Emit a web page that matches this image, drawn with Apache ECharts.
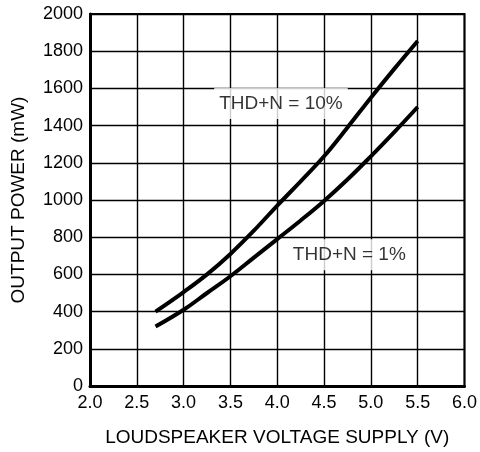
<!DOCTYPE html>
<html>
<head>
<meta charset="utf-8">
<script src="https://cdn.jsdelivr.net/npm/echarts@6/dist/echarts.min.js"></script>
<style>
html,body{margin:0;padding:0;background:#fff;}
#chart{width:480px;height:452px;}
</style>
</head>
<body>
<div id="chart"></div>
<script>
// Data
const voltage = [2.7, 3.0, 3.25, 3.5, 3.75, 4.0, 4.25, 4.5, 4.75, 5.0, 5.25, 5.5];
const power10 = [400, 505, 600, 710, 835, 970, 1100, 1235, 1390, 1550, 1705, 1855];
const power1  = [320, 410, 500, 590, 690, 790, 890, 995, 1110, 1235, 1365, 1500];
const xTicks = ['2.0','2.5','3.0','3.5','4.0','4.5','5.0','5.5','6.0'];
const labelNames = ['THD+N = 10%', 'THD+N = 1%'];
const labelX = [4.04, 4.77];
const labelY = [1519, 706];

const font = 'Liberation Sans, Arial, sans-serif';
const chart = echarts.init(document.getElementById('chart'));

const pairs = (xs, ys) => xs.map((x, i) => [x, ys[i]]);

chart.setOption({
  animation: false,
  backgroundColor: '#fff',
  grid: {left: 90, right: 15, top: 14, bottom: 64, show: true, borderColor: '#000', borderWidth: 2, backgroundColor: 'transparent'},
  xAxis: {
    type: 'value', min: 2, max: 6, interval: 0.5,
    name: 'LOUDSPEAKER VOLTAGE SUPPLY (V)', nameLocation: 'middle', nameGap: 42,
    nameTextStyle: {color: '#000', fontSize: 19, fontFamily: font},
    axisLine: {show: true, onZero: false, lineStyle: {color: '#000', width: 3}},
    axisTick: {show: false},
    axisLabel: {color: '#000', fontSize: 18, fontFamily: font, margin: 8,
      formatter: v => xTicks[Math.round((v - 2) / 0.5)]},
    splitLine: {show: true, lineStyle: {color: '#000', width: 1.4}}
  },
  yAxis: {
    type: 'value', min: 0, max: 2000, interval: 200,
    name: 'OUTPUT POWER (mW)', nameLocation: 'middle', nameGap: 62,
    nameTextStyle: {color: '#000', fontSize: 19, fontFamily: font},
    axisLine: {show: true, lineStyle: {color: '#000', width: 3}},
    axisTick: {show: false},
    axisLabel: {color: '#000', fontSize: 18, fontFamily: font, margin: 7,
      formatter: v => String(v)},
    splitLine: {show: true, lineStyle: {color: '#000', width: 1.4}}
  },
  series: [
    {type: 'line', data: pairs(voltage, power10), smooth: 0.4, showSymbol: false,
     lineStyle: {color: '#000', width: 4}, z: 3},
    {type: 'line', data: pairs(voltage, power1), smooth: 0.4, showSymbol: false,
     lineStyle: {color: '#000', width: 4}, z: 3},
    {type: 'scatter', symbolSize: 0, z: 5,
     data: labelNames.map((n, i) => ({name: n, value: [labelX[i], labelY[i]]})),
     label: {show: true, position: 'inside', formatter: p => p.name,
       color: '#000', fontSize: 19, fontFamily: font,
       backgroundColor: '#fff', padding: [6, 5, 6, 5]}
    }
  ]
});
</script>
</body>
</html>
